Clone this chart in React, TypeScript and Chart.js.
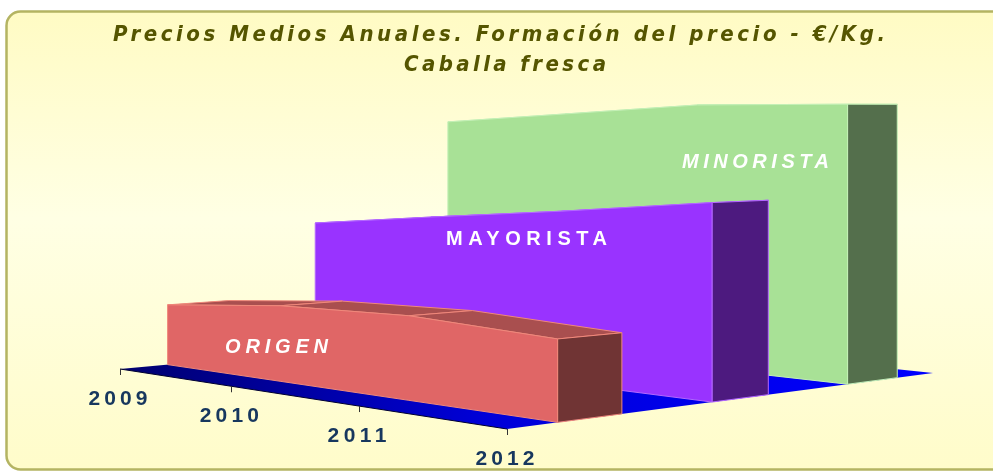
import { useEffect, useRef } from 'react';
import { Chart, registerables } from 'chart.js';

Chart.register(...registerables);

// ---- data ----
const years = ['2009', '2010', '2011', '2012'];
const seriesNames = ['ORIGEN', 'MAYORISTA', 'MINORISTA'];
const origen = [0.76, 0.90, 0.94, 0.86];
const mayorista = [1.72, 1.88, 2.03, 2.20];
const minorista = [3.07, 3.18, 3.29, 3.29];
const titleLines = ['Precios Medios Anuales. Formación del precio - €/Kg.', 'Caballa fresca'];

// ---- styles / layout ----
const W = 993;
const H = 471;
const FLOOR_CORNERS: number[][] = [[120, 369], [507, 429], [933, 373], [533, 331]];
const SERIES_DEPTH = 0.4; // fraction of each depth slot
const FRONT_COLORS = ['#e06666', '#9933ff', '#a8e196'];
const TOP_COLORS = ['#a94f4f', '#7326bf', '#7fad70'];
const END_COLORS = ['#703434', '#4d1a7f', '#546f4c'];
const EDGE_COLORS = ['#f0887a', '#b468ff', '#c4f0b6'];
const SERIES_LABELS = [
  { cx: 276.5, cy: 346, w: 103, italic: true },
  { cx: 526.5, cy: 238, w: 161, italic: false },
  { cx: 755.5, cy: 160.5, w: 147, italic: true },
];
const TITLE_POS = [
  { cx: 499, base: 41, w: 772 },
  { cx: 505, base: 71, w: 202 },
];
const TITLE_FONT = 'italic bold 22px "DejaVu Sans Condensed", "DejaVu Sans", "Liberation Sans", sans-serif';

function homography(q: number[][]) {
  const [[x0, y0], [x1, y1], [x2, y2], [x3, y3]] = q;
  const dx1 = x1 - x2, dx2 = x3 - x2, dx3 = x0 - x1 + x2 - x3;
  const dy1 = y1 - y2, dy2 = y3 - y2, dy3 = y0 - y1 + y2 - y3;
  const den = dx1 * dy2 - dy1 * dx2;
  const g = (dx3 * dy2 - dy3 * dx2) / den;
  const h = (dx1 * dy3 - dy1 * dx3) / den;
  const a = x1 - x0 + g * x1, b = x3 - x0 + h * x3, c = x0;
  const d = y1 - y0 + g * y1, e = y3 - y0 + h * y3, f = y0;
  return (u: number, v: number, hp: number) => {
    const w = g * u + h * v + 1;
    return [(a * u + b * v + c) / w, (d * u + e * v + f) / w - hp / w];
  };
}

function poly(ctx: CanvasRenderingContext2D, pts: number[][], fill: string | CanvasGradient, stroke?: string) {
  ctx.beginPath();
  pts.forEach((p, i) => (i === 0 ? ctx.moveTo(p[0], p[1]) : ctx.lineTo(p[0], p[1])));
  ctx.closePath();
  ctx.fillStyle = fill;
  ctx.fill();
  if (stroke) {
    ctx.strokeStyle = stroke;
    ctx.lineWidth = 1;
    ctx.lineJoin = 'round';
    ctx.stroke();
  }
}

function spacedText(
  ctx: CanvasRenderingContext2D,
  text: string,
  cx: number,
  base: number,
  targetW: number,
  font: string,
  color: string
) {
  ctx.save();
  ctx.font = font;
  (ctx as any).letterSpacing = '0px';
  const nat = ctx.measureText(text).width;
  const n = Array.from(text).length;
  const sp = n > 1 ? (targetW - nat) / (n - 1) : 0;
  (ctx as any).letterSpacing = sp + 'px';
  ctx.textAlign = 'left';
  ctx.textBaseline = 'alphabetic';
  ctx.fillStyle = color;
  ctx.fillText(text, cx - targetW / 2, base);
  ctx.restore();
}

const area3d = {
  id: 'area3d',
  beforeDraw(chart: any) {
    const ctx: CanvasRenderingContext2D = chart.ctx;
    ctx.save();
    ctx.fillStyle = '#ffffff';
    ctx.fillRect(0, 0, W, H);
    const grad = ctx.createLinearGradient(0, 12, 0, 470);
    grad.addColorStop(0, '#fffbc4');
    grad.addColorStop(0.45, '#ffffe4');
    grad.addColorStop(1, '#fffcca');
    ctx.beginPath();
    (ctx as any).roundRect(6.5, 11.5, 1200, 458, 14);
    ctx.fillStyle = grad;
    ctx.fill();
    ctx.strokeStyle = '#b4b462';
    ctx.lineWidth = 2.5;
    ctx.stroke();
    ctx.restore();
  },
  beforeDatasetsDraw(chart: any) {
    const ctx: CanvasRenderingContext2D = chart.ctx;
    const xs = chart.scales.x;
    const ys = chart.scales.y;
    const P = homography(FLOOR_CORNERS);
    const zeroPx = ys.getPixelForValue(0);
    const uOf = (px: number) => (px - xs.left) / xs.width;
    ctx.save();

    // floor
    const fg = ctx.createLinearGradient(120, 0, 933, 0);
    fg.addColorStop(0, '#00006e');
    fg.addColorStop(0.45, '#0000d8');
    fg.addColorStop(1, '#0000ff');
    poly(ctx, [P(0, 0, 0), P(1, 0, 0), P(1, 1, 0), P(0, 1, 0)], fg);
    const e0 = P(0, 0, 0), e1 = P(1, 0, 0);
    ctx.beginPath();
    ctx.moveTo(e0[0], e0[1]);
    ctx.lineTo(e1[0], e1[1]);
    ctx.strokeStyle = '#000030';
    ctx.lineWidth = 1;
    ctx.stroke();

    // category ticks and labels
    const labels: string[] = chart.data.labels;
    labels.forEach((lab, i) => {
      const u = uOf(xs.getPixelForValue(i));
      const [tx, ty] = P(u, 0, 0);
      ctx.beginPath();
      ctx.moveTo(Math.round(tx) + 0.5, ty);
      ctx.lineTo(Math.round(tx) + 0.5, ty + 6);
      ctx.strokeStyle = '#333333';
      ctx.lineWidth = 1;
      ctx.stroke();
      spacedText(ctx, lab, tx - 2, ty + 36, 59, 'bold 21px "Liberation Sans", Arial, sans-serif', '#17375e');
    });

    // series, back to front
    const nS = chart.data.datasets.length;
    for (let di = nS - 1; di >= 0; di--) {
      const meta = chart.getDatasetMeta(di);
      const pts = meta.data.map((el: any) => ({ u: uOf(el.x), hp: zeroPx - el.y }));
      const vc = (di + 0.5) / nS;
      const vf = vc - SERIES_DEPTH / nS / 2;
      const vb = vc + SERIES_DEPTH / nS / 2;
      const edge = EDGE_COLORS[di];
      // top faces
      for (let j = 0; j < pts.length - 1; j++) {
        const a = pts[j], b = pts[j + 1];
        poly(ctx, [P(a.u, vf, a.hp), P(b.u, vf, b.hp), P(b.u, vb, b.hp), P(a.u, vb, a.hp)], TOP_COLORS[di], edge);
      }
      // end face (last category)
      const last = pts[pts.length - 1];
      poly(
        ctx,
        [P(last.u, vf, 0), P(last.u, vb, 0), P(last.u, vb, last.hp), P(last.u, vf, last.hp)],
        END_COLORS[di],
        edge
      );
      // front face
      const front: number[][] = [];
      pts.forEach((p: any) => front.push(P(p.u, vf, 0)));
      for (let j = pts.length - 1; j >= 0; j--) front.push(P(pts[j].u, vf, pts[j].hp));
      poly(ctx, front, FRONT_COLORS[di], edge);
    }

    // series names
    chart.data.datasets.forEach((ds: any, di: number) => {
      const L = SERIES_LABELS[di];
      spacedText(
        ctx,
        ds.label,
        L.cx,
        L.cy + 7,
        L.w,
        (L.italic ? 'italic ' : '') + 'bold 20px "Liberation Sans", Arial, sans-serif',
        '#ffffff'
      );
    });
    ctx.restore();
    return false;
  },
  afterDraw(chart: any) {
    const ctx: CanvasRenderingContext2D = chart.ctx;
    titleLines.forEach((t, i) => {
      const T = TITLE_POS[i];
      spacedText(ctx, t, T.cx, T.base, T.w, TITLE_FONT, '#555500');
    });
  },
};

export default function App() {
  const ref = useRef<HTMLCanvasElement | null>(null);
  useEffect(() => {
    if (!ref.current) return;
    const chart = new Chart(ref.current, {
      type: 'line',
      data: {
        labels: years,
        datasets: [
          { label: seriesNames[0], data: origen, backgroundColor: FRONT_COLORS[0], borderColor: FRONT_COLORS[0] },
          { label: seriesNames[1], data: mayorista, backgroundColor: FRONT_COLORS[1], borderColor: FRONT_COLORS[1] },
          { label: seriesNames[2], data: minorista, backgroundColor: FRONT_COLORS[2], borderColor: FRONT_COLORS[2] },
        ],
      },
      options: {
        responsive: false,
        animation: false,
        layout: { padding: { top: 75, bottom: 76, left: 20, right: 20 } },
        scales: {
          x: { type: 'category', display: false, offset: false },
          y: { type: 'linear', display: false, min: 0, max: 4 },
        },
        elements: { point: { radius: 0 }, line: { borderWidth: 0 } },
        plugins: {
          legend: { display: false },
          title: { display: false },
          tooltip: { enabled: false },
        },
      },
      plugins: [area3d],
    } as any);
    return () => chart.destroy();
  }, []);
  return (
    <div style={{ position: 'fixed', left: 0, top: 0, width: W, height: H }}>
      <canvas ref={ref} width={W} height={H} style={{ display: 'block', width: W, height: H }} />
    </div>
  );
}
